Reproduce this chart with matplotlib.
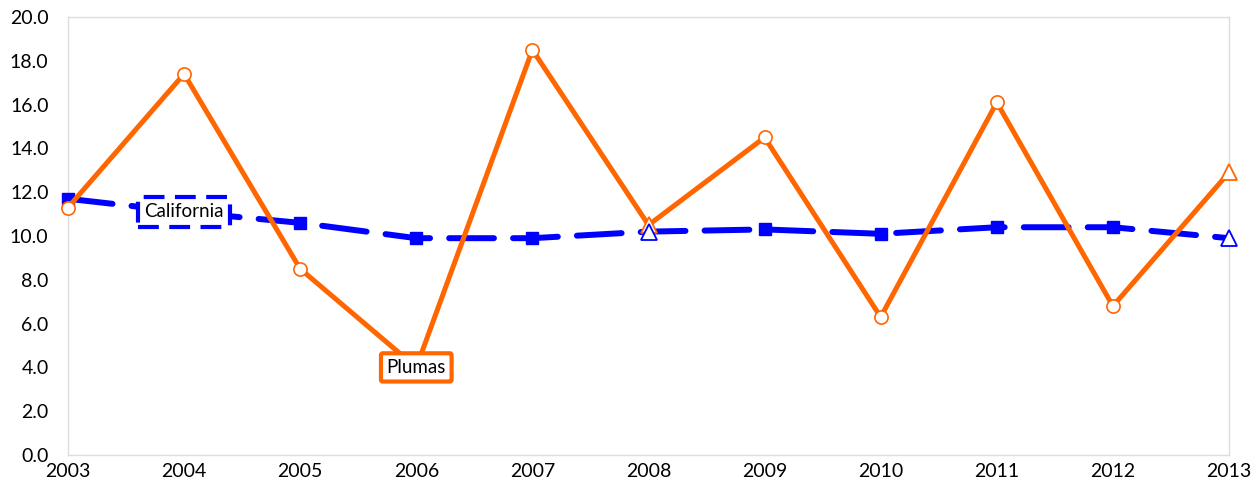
import matplotlib
matplotlib.use("Agg")
import matplotlib.pyplot as plt

years = [2003, 2004, 2005, 2006, 2007, 2008, 2009, 2010, 2011, 2012, 2013]
plumas = [11.3, 17.4, 8.5, 4.0, 18.5, 10.5, 14.5, 6.3, 16.1, 6.8, 12.9]
california = [11.7, 11.1, 10.6, 9.9, 9.9, 10.2, 10.3, 10.1, 10.4, 10.4, 9.9]
triangle_years = [2008, 2013]
y_ticks = [0, 2, 4, 6, 8, 10, 12, 14, 16, 18, 20]

plt.rcParams['font.family'] = ['Lato', 'DejaVu Sans']

ORANGE = '#FF6600'
BLUE = '#0000FF'

fig = plt.figure(figsize=(12.58, 4.93), dpi=100)
ax = fig.add_axes([68/1258, 1-455/493, (1229-68)/1258, (455-17)/493])

# California line
ax.plot(years, california, color=BLUE, lw=4.3, dashes=(7.5, 3.2),
        dash_capstyle='round', zorder=2, clip_on=False)
sq_x = [x for x in years if x not in triangle_years]
sq_y = [v for x, v in zip(years, california) if x not in triangle_years]
ax.plot(sq_x, sq_y, ls='none', marker='s', ms=9, color=BLUE, zorder=3, clip_on=False)

# Plumas line
ax.plot(years, plumas, color=ORANGE, lw=3.6, zorder=4, clip_on=False)
c_x = [x for x in years if x not in triangle_years]
c_y = [v for x, v in zip(years, plumas) if x not in triangle_years]
ax.plot(c_x, c_y, ls='none', marker='o', ms=9.5, mfc='white', mec=ORANGE,
        mew=1.2, zorder=5, clip_on=False)
tp_y = [v for x, v in zip(years, plumas) if x in triangle_years]
ax.plot(triangle_years, tp_y, ls='none', marker='^', ms=12, mfc='white',
        mec=ORANGE, mew=1.3, zorder=5, clip_on=False)

tr_y = [v for x, v in zip(years, california) if x in triangle_years]
ax.plot(triangle_years, tr_y, ls='none', marker='^', ms=12, mfc='white',
        mec=BLUE, mew=1.3, zorder=6, clip_on=False)

# labels
ax.text(2004, california[1], 'California', ha='center', va='center', fontsize=13.5,
        zorder=7, bbox=dict(boxstyle='square,pad=0.35', fc='white', ec=BLUE,
                            lw=3, ls=(0, (5, 2.5))))
ax.text(2006, plumas[3], 'Plumas', ha='center', va='center', fontsize=13.5,
        zorder=7, bbox=dict(boxstyle='round,pad=0.3,rounding_size=0.1', fc='white', ec=ORANGE, lw=3))

ax.set_xlim(2003, 2013)
ax.set_ylim(0, 20)
ax.set_xticks(years)
ax.set_xticklabels([str(y) for y in years])
ax.set_yticks(y_ticks)
ax.set_yticklabels([f'{v:.1f}' for v in y_ticks])
ax.tick_params(length=0, labelsize=14)
ax.tick_params(axis='y', pad=14)
ax.tick_params(axis='x', pad=6)
for s in ax.spines.values():
    s.set_color('#DDDDDD')
    s.set_linewidth(1)

fig.savefig('out.png', dpi=100)
